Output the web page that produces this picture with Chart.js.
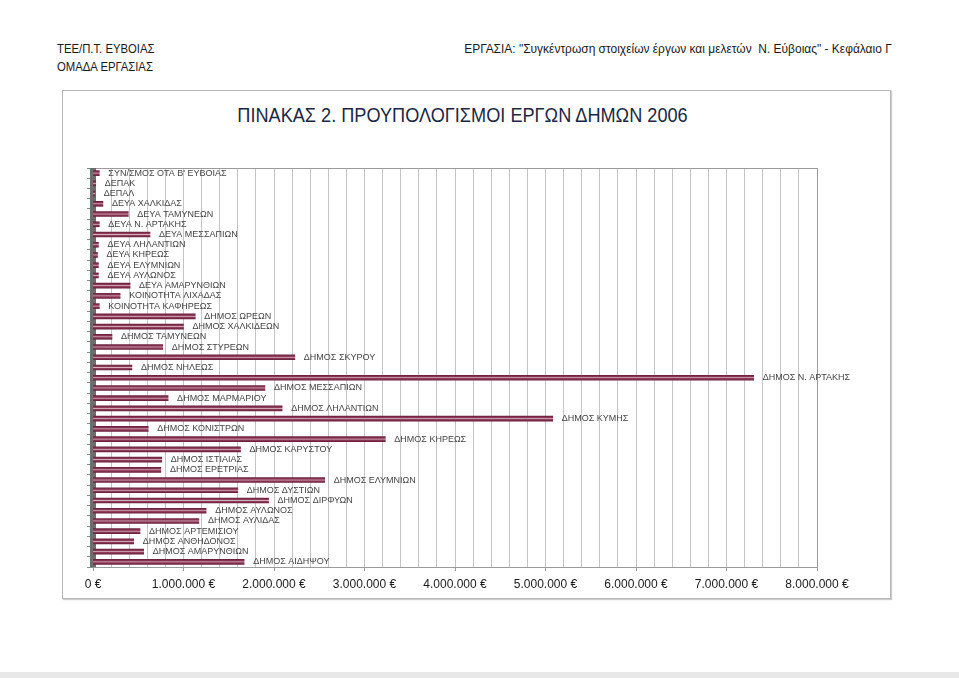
<!DOCTYPE html>
<html>
  <head>
    <title>Προϋπολογισμοί έργων δήμων 2006</title>
    <script src="https://cdn.jsdelivr.net/npm/chart.js@4.4.0/dist/chart.umd.min.js"></script>
    <style>
        body { margin: 0; background: #fff; }
        .page { position: relative; width: 959px; height: 678px; overflow: hidden;
                font-family: "Liberation Sans", Arial, sans-serif; color: #1a1a1a; }
        .hdr { position: absolute; font-size: 13px; line-height: 18px; white-space: nowrap; }
        .box { position: absolute; left: 62px; top: 90px; width: 827px; height: 507px;
               border: 1px solid #b8b8b8; box-shadow: 1px 1px 1px #ccc; }
        .title { position: absolute; left: 48px; width: 829px; top: 103px; text-align: center;
                 font-size: 20.5px; color: #1b2745; transform: scaleX(0.885); }
        .edge { position: absolute; left: 0; right: 0; top: 672px; height: 6px; background: #e8e8e8; }
        canvas { position: absolute; left: 0; top: 0; }
    </style>
  </head>
  <body>
    <div class="page">
      <div class="hdr" style="left:57px; top:40px; transform:scaleX(0.87); transform-origin:left;">ΤΕΕ/Π.Τ. ΕΥΒΟΙΑΣ<br>ΟΜΑΔΑ ΕΡΓΑΣΙΑΣ</div>
      <div class="hdr" style="right:67px; top:40px; transform:scaleX(0.92); transform-origin:right;">ΕΡΓΑΣΙΑ: "Συγκέντρωση στοιχείων έργων και μελετών&nbsp; Ν. Εύβοιας" - Κεφάλαιο Γ</div>
      <div class="box"></div>
      <div class="title">ΠΙΝΑΚΑΣ 2. ΠΡΟΥΠΟΛΟΓΙΣΜΟΙ ΕΡΓΩΝ ΔΗΜΩΝ 2006</div>
      <div class="edge"></div>
      <canvas id="budgetChart" width="959" height="678"></canvas>
    </div>
    <script>
      // categories, top to bottom as in the table
      var bodies = [
        "ΣΥΝ/ΣΜΟΣ ΟΤΑ Β' ΕΥΒΟΙΑΣ", "ΔΕΠΑΚ", "ΔΕΠΑΛ", "ΔΕΥΑ ΧΑΛΚΙΔΑΣ", "ΔΕΥΑ ΤΑΜΥΝΕΩΝ",
        "ΔΕΥΑ Ν. ΑΡΤΑΚΗΣ", "ΔΕΥΑ ΜΕΣΣΑΠΙΩΝ", "ΔΕΥΑ ΛΗΛΑΝΤΙΩΝ", "ΔΕΥΑ ΚΗΡΕΩΣ", "ΔΕΥΑ ΕΛΥΜΝΙΩΝ",
        "ΔΕΥΑ ΑΥΛΩΝΟΣ", "ΔΕΥΑ ΑΜΑΡΥΝΘΙΩΝ", "ΚΟΙΝΟΤΗΤΑ ΛΙΧΑΔΑΣ", "ΚΟΙΝΟΤΗΤΑ ΚΑΦΗΡΕΩΣ", "ΔΗΜΟΣ ΩΡΕΩΝ",
        "ΔΗΜΟΣ ΧΑΛΚΙΔΕΩΝ", "ΔΗΜΟΣ ΤΑΜΥΝΕΩΝ", "ΔΗΜΟΣ ΣΤΥΡΕΩΝ", "ΔΗΜΟΣ ΣΚΥΡΟΥ", "ΔΗΜΟΣ ΝΗΛΕΩΣ",
        "ΔΗΜΟΣ Ν. ΑΡΤΑΚΗΣ", "ΔΗΜΟΣ ΜΕΣΣΑΠΙΩΝ", "ΔΗΜΟΣ ΜΑΡΜΑΡΙΟΥ", "ΔΗΜΟΣ ΛΗΛΑΝΤΙΩΝ", "ΔΗΜΟΣ ΚΥΜΗΣ",
        "ΔΗΜΟΣ ΚΟΝΙΣΤΡΩΝ", "ΔΗΜΟΣ ΚΗΡΕΩΣ", "ΔΗΜΟΣ ΚΑΡΥΣΤΟΥ", "ΔΗΜΟΣ ΙΣΤΙΑΙΑΣ", "ΔΗΜΟΣ ΕΡΕΤΡΙΑΣ",
        "ΔΗΜΟΣ ΕΛΥΜΝΙΩΝ", "ΔΗΜΟΣ ΔΥΣΤΙΩΝ", "ΔΗΜΟΣ ΔΙΡΦΥΩΝ", "ΔΗΜΟΣ ΑΥΛΩΝΟΣ", "ΔΗΜΟΣ ΑΥΛΙΔΑΣ",
        "ΔΗΜΟΣ ΑΡΤΕΜΙΣΙΟΥ", "ΔΗΜΟΣ ΑΝΘΗΔΟΝΟΣ", "ΔΗΜΟΣ ΑΜΑΡΥΝΘΙΩΝ", "ΔΗΜΟΣ ΑΙΔΗΨΟΥ"
      ];
      // budgets in euro
      var budgets = [
        70000, 30000, 20000, 110000, 390000,
        70000, 630000, 60000, 50000, 60000,
        60000, 410000, 300000, 70000, 1130000,
        1000000, 210000, 770000, 2230000, 430000,
        7300000, 1900000, 830000, 2090000, 5080000,
        610000, 3230000, 1630000, 760000, 750000,
        2560000, 1600000, 1940000, 1250000, 1170000,
        520000, 450000, 560000, 1670000
      ];
      var axisMax = 8000000;
      var gridStep = 200000;

      function euro(v) {
        return v.toFixed(0).replace(/\B(?=(\d{3})+(?!\d))/g, ".") + " €";
      }

      // left wall, frame and the name written after every bar
      var decor = {
        id: "decor",
        beforeDatasetsDraw: function(chart) {
          var a = chart.chartArea, c = chart.ctx;
          c.save();
          c.strokeStyle = "#9a9a9a";
          c.lineWidth = 1;
          c.strokeRect(a.left + 0.5, a.top + 0.5, a.right - a.left, a.bottom - a.top);
          c.fillStyle = "#6d6d6d";
          c.fillRect(a.left - 3, a.top, 6, a.bottom - a.top);
          c.restore();
        },
        afterDatasetsDraw: function(chart) {
          var c = chart.ctx;
          var meta = chart.getDatasetMeta(0);
          c.save();
          c.font = '9px "Liberation Sans", Arial, sans-serif';
          c.fillStyle = "#444";
          c.textBaseline = "middle";
          meta.data.forEach(function(bar, i) {
            c.fillText(bodies[i], bar.x + 9, bar.y);
          });
          c.restore();
        }
      };

      var ctx = document.getElementById("budgetChart").getContext("2d");
      var budgetChart = new Chart(ctx, {
        type: "bar",
        data: {
          labels: bodies,
          datasets: [{
            data: budgets,
            barThickness: 5,
            backgroundColor: function(context) {
              var chart = context.chart;
              var y = chart.scales.y ? chart.scales.y.getPixelForValue(context.dataIndex) : null;
              if (y == null || isNaN(y)) return "#8a3651";
              var g = chart.ctx.createLinearGradient(0, y - 2.5, 0, y + 2.5);
              g.addColorStop(0, "#6a1e3c");
              g.addColorStop(0.35, "#94405c");
              g.addColorStop(0.5, "#cfb1bb");
              g.addColorStop(0.65, "#94405c");
              g.addColorStop(1, "#6a1e3c");
              return g;
            }
          }]
        },
        options: {
          indexAxis: "y",
          responsive: false,
          animation: false,
          layout: { padding: { left: 83, top: 168, right: 142, bottom: 81 } },
          plugins: { legend: { display: false }, tooltip: { enabled: false } },
          scales: {
            x: {
              min: 0,
              max: axisMax,
              afterFit: function(s) { s.height = 30; },
              border: { color: "#9a9a9a" },
              grid: {
                color: "#c4c4c4",
                tickLength: 4,
                tickColor: function(c) { return c.tick && c.tick.value % 1000000 === 0 ? "#9a9a9a" : "rgba(0,0,0,0)"; }
              },
              ticks: {
                stepSize: gridStep,
                autoSkip: false,
                maxRotation: 0,
                padding: 6,
                color: "#1a1a1a",
                font: { family: '"Liberation Sans", Arial, sans-serif', size: 12 },
                callback: function(v) { return v % 1000000 === 0 ? euro(v) : ""; }
              }
            },
            y: {
              afterFit: function(s) { s.width = 10; },
              border: { display: false },
              grid: { drawOnChartArea: false, tickLength: 6, color: "#8a8a8a" },
              ticks: { display: false }
            }
          }
        },
        plugins: [decor]
      });
    </script>
  </body>
</html>
